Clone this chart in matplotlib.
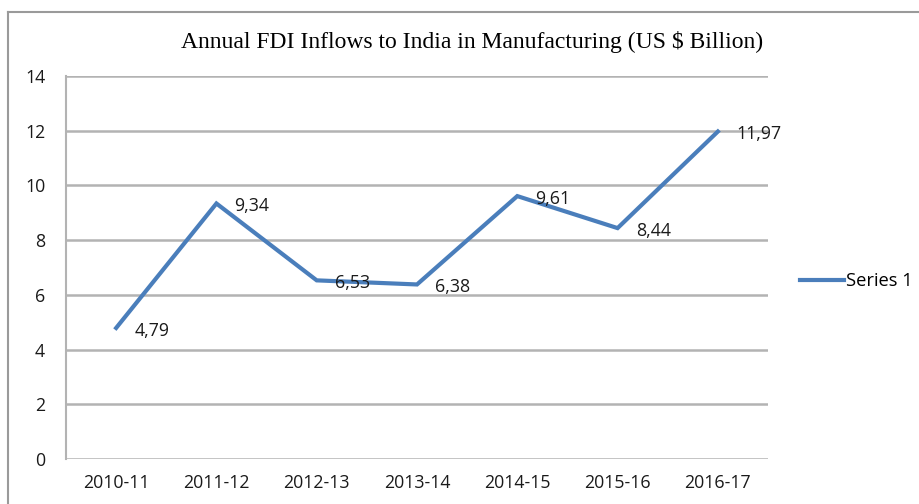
import matplotlib
matplotlib.use("Agg")
import matplotlib.pyplot as plt
from matplotlib.lines import Line2D

categories = ["2010-11", "2011-12", "2012-13", "2013-14", "2014-15", "2015-16", "2016-17"]
values = [4.79, 9.34, 6.53, 6.38, 9.61, 8.44, 11.97]
value_labels = ["4,79", "9,34", "6,53", "6,38", "9,61", "8,44", "11,97"]
yticks = [0, 2, 4, 6, 8, 10, 12, 14]
series_name = "Series 1"
title = "Annual FDI Inflows to India in Manufacturing (US $ Billion)"

W, H = 920, 504
fig = plt.figure(figsize=(W / 100, H / 100), dpi=100)
fig.patch.set_facecolor("white")

L, R, T, B = 66, 768, 76, 459
ax = fig.add_axes([L / W, 1 - B / H, (R - L) / W, (B - T) / H])

line_color = "#4A7EBB"
grid_color = "#B3B3B3"
txt_color = "#1a1a1a"
FS = 12.8

x = list(range(len(categories)))
ax.plot(x, values, color=line_color, lw=3, solid_joinstyle="miter", zorder=3)

for xi, v, lab in zip(x, values, value_labels):
    ax.annotate(lab, (xi, v), xytext=(13, -2), textcoords="offset points",
                ha="left", va="center", fontsize=FS, family="Open Sans",
                color=txt_color, zorder=4)

ax.set_xlim(-0.5, len(categories) - 0.5)
ax.set_ylim(0, 14)
ax.set_yticks(yticks)
ax.set_yticklabels([str(t) for t in yticks])
ax.set_xticks(x)
ax.set_xticklabels(categories)
for lab in ax.get_xticklabels() + ax.get_yticklabels():
    lab.set_family("Open Sans")
    lab.set_fontsize(FS)
    lab.set_color(txt_color)
ax.tick_params(axis="both", length=0)
ax.tick_params(axis="y", pad=15)
ax.tick_params(axis="x", pad=11)

ax.grid(axis="y", color=grid_color, lw=1.8, zorder=1)
ax.set_axisbelow(True)
for s in ["top", "right", "bottom"]:
    ax.spines[s].set_visible(False)
ax.spines["left"].set_color(grid_color)
ax.spines["left"].set_linewidth(1.5)

fig.text(472 / W, 1 - 42 / H, title, ha="center", va="center",
         family="Liberation Serif", fontsize=17, color="#000000")

# legend
handle = Line2D([0], [0], color=line_color, lw=3)
fig.legend([handle], [series_name], loc="center left",
           bbox_to_anchor=(800 / W, 1 - 281 / H), frameon=False,
           prop={"family": "Open Sans", "size": 13.2}, handlelength=2.4,
           handletextpad=0.1, borderaxespad=0, borderpad=0)

# outer chart frame
fig.add_artist(Line2D([8 / W, 8 / W], [1 - 12 / H, 0], transform=fig.transFigure,
                      color="#9a9a9a", lw=1.5))
fig.add_artist(Line2D([8 / W, 1], [1 - 12 / H, 1 - 12 / H], transform=fig.transFigure,
                      color="#9a9a9a", lw=1.5))

fig.savefig("out.png", dpi=100, facecolor="white")
